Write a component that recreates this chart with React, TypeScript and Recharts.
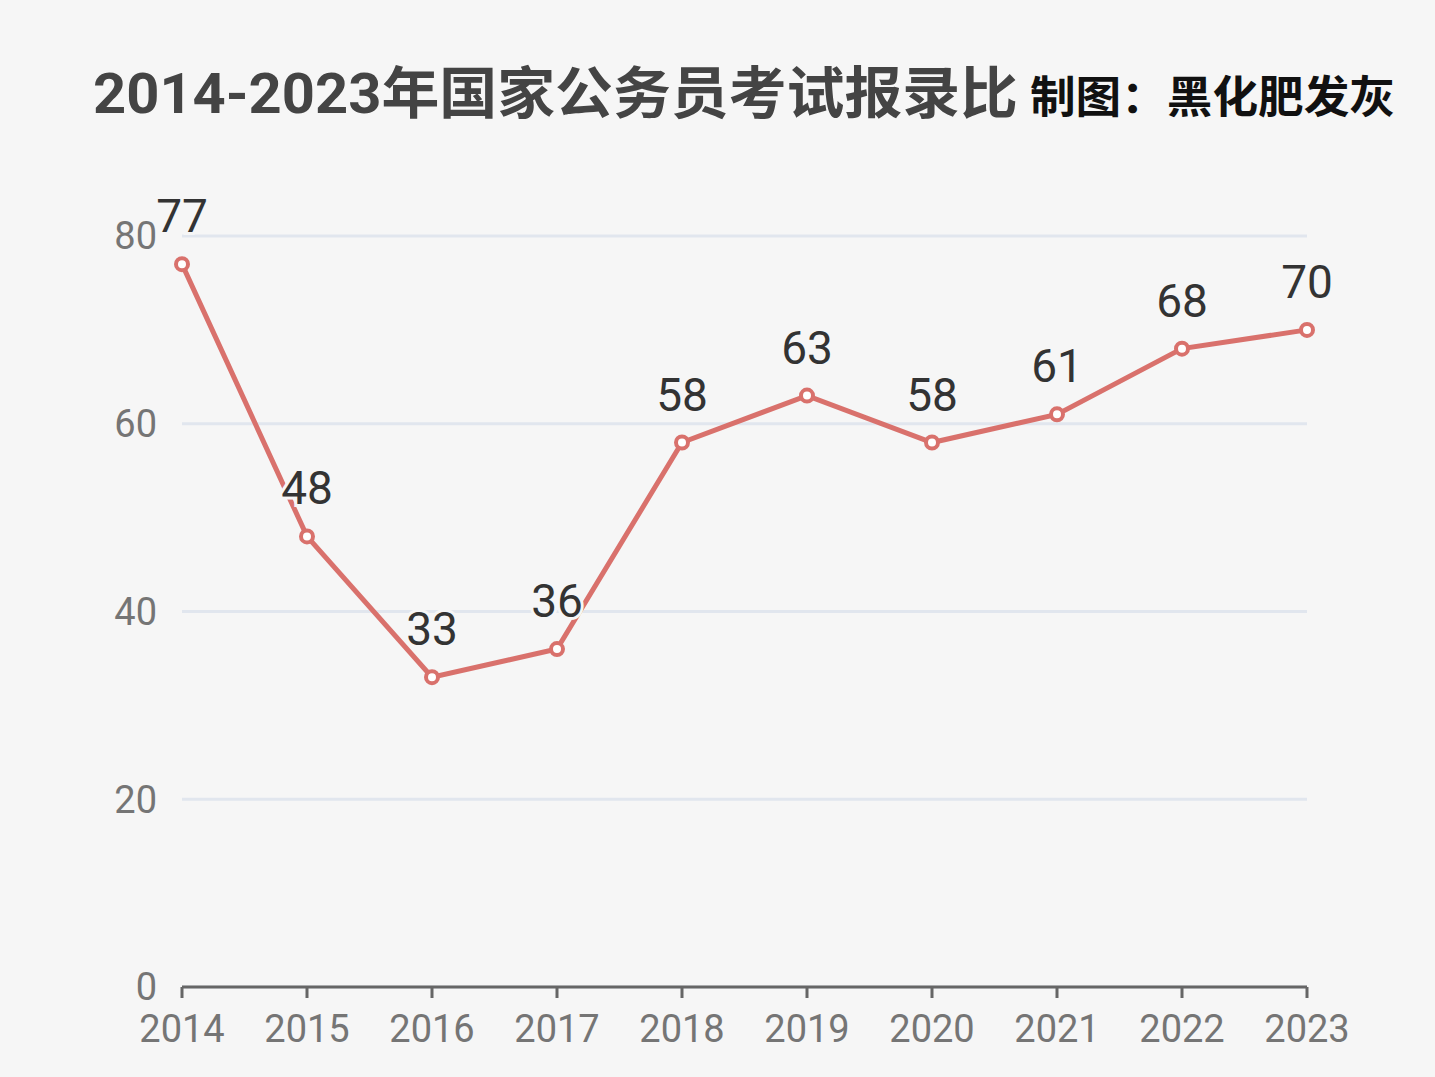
import { LineChart, Line, XAxis, YAxis, CartesianGrid, LabelList } from 'recharts';

const years = ['2014', '2015', '2016', '2017', '2018', '2019', '2020', '2021', '2022', '2023'];
const ratios = [77, 48, 33, 36, 58, 63, 58, 61, 68, 70];
const yTicks = [0, 20, 40, 60, 80];

const TITLE = '2014-2023年国家公务员考试报录比';
const CREDIT = '制图：黑化肥发灰';

const LINE_COLOR = '#d9716c';
const BG = '#f6f6f6';

export default function App() {
  const data = years.map((year, i) => ({ year, ratio: ratios[i] }));

  const renderLabel = (props: any) => {
    const { x, y, value } = props;
    return (
      <text
        x={x}
        y={y - 32}
        textAnchor="middle"
        fontSize={46}
        fontFamily="Roboto, 'Noto Sans', sans-serif"
        fill="#333"
        stroke={BG}
        strokeWidth={6}
        paintOrder="stroke"
      >
        {value}
      </text>
    );
  };

  return (
    <div style={{ position: 'relative', width: 1435, height: 1077, background: BG }}>
      <style>{'body { margin: 0; }'}</style>
      <svg width={1435} height={160} style={{ position: 'absolute', left: 0, top: 0 }}>
        <text
          x={93}
          y={113}
          fontSize={56}
          fontWeight="bold"
          fontFamily="Roboto, 'Noto Sans CJK SC', sans-serif"
          fill="#444"
          textLength={925}
          lengthAdjust="spacingAndGlyphs"
        >
          {TITLE}
        </text>
        <text
          x={1030}
          y={113}
          fontSize={44}
          fontWeight="bold"
          fontFamily="'Noto Sans CJK SC', sans-serif"
          fill="#111"
          textLength={365}
          lengthAdjust="spacingAndGlyphs"
        >
          {CREDIT}
        </text>
      </svg>
      <LineChart
        width={1435}
        height={1077}
        data={data}
        margin={{ top: 236, right: 128, bottom: 30, left: 122 }}
      >
        <CartesianGrid vertical={false} stroke="#e1e6ee" strokeWidth={3} />
        <XAxis
          dataKey="year"
          height={60}
          interval={0}
          stroke="#666"
          strokeWidth={3}
          tickSize={11}
          tickMargin={17}
          padding={{ left: 0, right: 0 }}
          tick={{ fontSize: 38, fill: '#757575', fontFamily: 'Roboto, sans-serif' }}
        />
        <YAxis
          width={60}
          domain={[0, 80]}
          ticks={yTicks}
          axisLine={false}
          tickLine={false}
          tickSize={6}
          tickMargin={19}
          tick={{ fontSize: 38, fill: '#757575', fontFamily: 'Roboto, sans-serif' }}
        />
        <Line
          type="linear"
          dataKey="ratio"
          stroke={LINE_COLOR}
          strokeWidth={5}
          dot={{ r: 6, fill: '#fff', stroke: LINE_COLOR, strokeWidth: 4 }}
          activeDot={false}
          isAnimationActive={false}
        >
          <LabelList dataKey="ratio" content={renderLabel} />
        </Line>
      </LineChart>
    </div>
  );
}
